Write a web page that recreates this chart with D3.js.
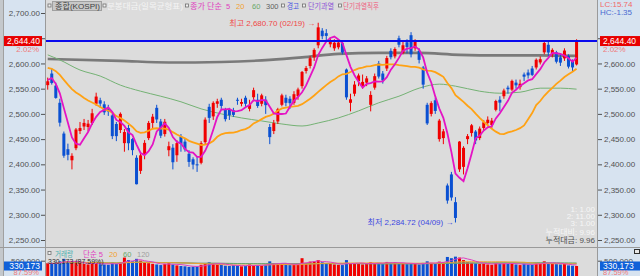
<!DOCTYPE html>
<html><head><meta charset="utf-8">
<script src="https://cdn.jsdelivr.net/npm/d3@7"></script>
<style>
body{margin:0;background:#dcdcdc;overflow:hidden}
svg{display:block;font-family:"Liberation Sans","Noto Sans CJK KR",sans-serif}
</style></head><body>
<svg id="c" width="640" height="276"></svg>
<script>
// ---------------- DATA ----------------
const dates = ["11/07","11/08","11/11","11/12","11/13","11/14","11/15","11/18","11/19","11/20","11/21","11/22","11/25","11/26","11/27","11/28","11/29",
"12/02","12/03","12/04","12/05","12/06","12/09","12/10","12/11","12/12","12/13","12/16","12/17","12/18","12/19","12/20","12/23","12/24","12/26","12/27","12/30",
"01/02","01/03","01/06","01/07","01/08","01/09","01/10","01/13","01/14","01/15","01/16","01/17","01/20","01/21","01/22","01/23","01/24","01/31",
"02/03","02/04","02/05","02/06","02/07","02/10","02/11","02/12","02/13","02/14","02/17","02/18","02/19","02/20","02/21","02/24","02/25","02/26","02/27","02/28",
"03/04","03/05","03/06","03/07","03/10","03/11","03/12","03/13","03/14","03/17","03/18","03/19","03/20","03/21","03/24","03/25","03/26","03/27","03/28","03/31",
"04/01","04/02","04/03","04/04","04/07","04/08","04/09","04/10","04/11","04/14","04/15","04/16","04/17","04/18","04/21","04/22","04/23","04/24","04/25","04/28","04/29","04/30",
"05/02","05/07","05/08","05/09","05/12","05/13","05/14","05/15","05/16","05/19","05/20","05/21","05/22","05/23","05/26"];

const open = [2557,2580,2556,2522,2461,2430,2408,2432,2466,2475,2474,2482,2520,2527,2519,2512,2497,
2480,2468,2442,2472,2450,2413,2387,2420,2452,2482,2512,2485,2460,2428,2433,2418,2455,2445,2421,2410,
2400,2403,2444,2514,2495,2520,2528,2508,2508,2507,2528,2520,2532,2510,2533,2528,2520,2528,
2474,2466,2485,2518,2532,2530,2522,2535,2555,2585,2595,2612,2636,2665,2660,2638,2630,2632,2640,2588,
2522,2540,2565,2555,2562,2518,2552,2600,2580,2590,2625,2614,2650,2621,2642,2656,2630,2625,2592,2518,
2500,2527,2450,2452,2358,2380,2325,2390,2395,2450,2462,2465,2452,2472,2482,2478,2508,2528,2535,2552,2548,2562,
2553,2578,2582,2590,2592,2602,2622,2637,2618,2622,2612,2610,2615,2605,2598];

const high = [2572,2590,2562,2530,2465,2441,2422,2472,2484,2490,2488,2510,2542,2532,2525,2518,2501,
2484,2503,2470,2478,2452,2418,2422,2448,2486,2500,2518,2490,2490,2445,2440,2448,2460,2452,2428,2414,
2415,2446,2493,2520,2525,2530,2532,2512,2512,2512,2532,2530,2536,2528,2552,2540,2540,2535,
2480,2488,2512,2540,2538,2535,2545,2552,2585,2595,2615,2630,2680.70,2670,2668,2652,2648,2648,2645,2590,
2540,2565,2580,2578,2575,2545,2580,2605,2585,2615,2630,2632,2655,2645,2648,2662,2648,2630,2595,2522,
2525,2532,2490,2470,2362,2385,2335,2446,2436,2460,2480,2468,2475,2488,2495,2492,2528,2535,2550,2556,2568,2568,
2568,2582,2588,2595,2610,2614,2645,2644,2630,2625,2618,2630,2618,2608,2648];

const low = [2548,2558,2530,2475,2413,2408,2390,2428,2460,2468,2465,2478,2516,2512,2498,2496,2450,
2446,2462,2425,2428,2418,2360.18,2381,2410,2448,2470,2482,2452,2455,2416,2390,2405,2425,2425,2395,2390,
2385,2400,2440,2482,2488,2512,2510,2485,2488,2494,2518,2515,2514,2505,2525,2512,2515,2500,
2440,2460,2480,2515,2515,2510,2518,2528,2550,2580,2590,2605,2630,2648,2645,2632,2625,2628,2618,2528,
2505,2535,2555,2550,2555,2505,2548,2570,2560,2585,2608,2610,2632,2618,2620,2612,2625,2600,2550,2478,
2495,2500,2445,2440,2322,2328,2284.72,2385,2380,2440,2455,2440,2448,2468,2475,2470,2505,2505,2530,2540,2545,2550,
2548,2565,2570,2575,2588,2598,2618,2615,2612,2600,2595,2605,2590,2585,2596];

const close = [2564.63,2561.15,2531.66,2482.57,2417.08,2418.86,2416.86,2469.07,2471.95,2482.11,2480.63,2501.24,2534.34,2520.36,2503.06,2504.67,2455.91,
2455.91,2500.10,2464.00,2441.85,2428.16,2360.58,2417.84,2442.51,2482.12,2494.46,2488.97,2456.81,2484.43,2435.93,2404.15,2442.01,2440.52,2429.67,2404.77,2399.49,
2398.94,2441.92,2488.64,2492.10,2521.90,2525.00,2515.78,2489.56,2497.42,2498.02,2527.49,2523.55,2520.05,2518.03,2547.06,2515.69,2536.80,2517.37,
2453.95,2481.69,2509.27,2536.75,2521.92,2521.27,2539.05,2548.39,2583.17,2591.05,2610.42,2626.81,2671.52,2654.06,2654.58,2645.27,2641.09,2641.50,2621.75,2532.78,
2528.92,2558.13,2576.16,2563.48,2570.39,2537.60,2574.82,2574.00,2566.36,2610.69,2612.34,2628.62,2637.10,2636.00,2632.59,2618.16,2643.94,2607.15,2557.98,2481.12,
2521.39,2505.86,2486.70,2465.42,2328.20,2334.23,2293.70,2445.06,2432.72,2455.89,2477.41,2447.34,2470.83,2483.42,2488.42,2486.64,2525.56,2522.33,2546.30,2548.86,2565.42,2556.61,
2559.79,2573.80,2576.29,2577.27,2607.33,2608.42,2640.57,2621.68,2626.87,2603.42,2601.62,2625.58,2593.67,2592.09,2644.40];

// closes of the 19 sessions before 11/07 (needed for the 5/20-day averages)
const priorCloses = [2596.91,2623.29,2633.45,2610.36,2609.30,2593.82,2604.02,2570.70,2599.62,2581.03,2583.27,2612.43,2617.80,2593.79,2556.15,2542.36,2588.97,2576.88,2563.51];

const volume = [420000,400000,430000,480000,560000,470000,450000,430000,420000,400000,380000,420000,430000,390000,380000,370000,450000,
400000,450000,600000,520000,480000,560000,500000,430000,420000,400000,380000,360000,400000,420000,380000,350000,330000,320000,300000,310000,
320000,370000,400000,450000,420000,380000,370000,340000,330000,360000,350000,320000,330000,380000,350000,360000,340000,370000,
480000,420000,400000,410000,380000,360000,380000,400000,580000,430000,470000,480000,520000,450000,420000,400000,380000,370000,360000,520000,
400000,420000,410000,380000,400000,450000,420000,430000,410000,460000,440000,450000,420000,400000,390000,420000,400000,380000,430000,480000,
430000,400000,470000,450000,620000,580000,630000,600000,520000,450000,430000,420000,400000,410000,380000,370000,430000,410000,420000,400000,410000,380000,
360000,400000,380000,370000,430000,420000,480000,430000,400000,390000,380000,400000,350000,340000,330173];

// 60-day and 300-day averages (session index, value)
const ma60At  = [0,3,8,13,18,23,28,33,38,43,48,53,58,63,67,72,77,82,87,92,97,101,107,112,117,122,127,131];
const ma60Val = [2617,2607,2587,2575,2557,2545,2535,2524,2510,2500,2492,2486,2480,2476,2482,2492,2506,2522,2535,2551,2559,2555,2545,2541,2543,2551,2551,2549];
const ma300At  = [0,18,30,43,55,63,72,82,92,102,112,122,131];
const ma300Val = [2609,2605,2602,2603,2607,2612,2619,2621,2621,2617,2616,2616,2615];

const priceTicks = [2250,2300,2350,2400,2450,2500,2550,2600,2650,2700];
const priceTicksRight = [2250,2300,2350,2400,2450,2500,2550,2600,2650];
const volTicks = [500000];
const lastPrice = 2644.40, lastPct = "2.02%";
const lastVol = 330173, lastVolPct = "87.59%";
const statLines = ["1: 1.00","2: 11.00","3: 1.00","누적대비: 9.96","누적대금: 9.96"];

// ---------------- CHART ----------------
const svg = d3.select("#c");
const fmt2 = d3.format(",.2f"), fmtI = d3.format(",");
const FONT = 8;
const x = d3.scaleBand().domain(dates).range([45.7, 45.7 + 4.037*dates.length]).padding(0);
const xc = i => x(dates[i]) + x.bandwidth()/2;
const y = d3.scaleLinear().domain([2250,2700]).range([240,13]);
const yv = d3.scaleLinear().domain([0,500000]).range([276.3,260.7]);
const UP = "#f00000", DN = "#0a50d2";

svg.append("rect").attr("width",640).attr("height",276).attr("fill","#dcdcdc");
svg.append("rect").attr("x",0).attr("width",45).attr("height",276).attr("fill","#d7e3f0");
svg.append("rect").attr("x",0).attr("width",3).attr("height",276).attr("fill","#c4c8cc");
svg.append("rect").attr("x",598).attr("width",42).attr("height",276).attr("fill","#d7e3f0");

const defs = svg.append("defs");
defs.append("clipPath").attr("id","cm").append("rect").attr("x",46).attr("y",0).attr("width",551).attr("height",247);
defs.append("clipPath").attr("id","cv").append("rect").attr("x",46).attr("y",248).attr("width",551).attr("height",28);

function sma(arr, n, prior) {
  const all = prior.concat(arr);
  return arr.map((_, i) => { const j = i + prior.length; return d3.mean(all.slice(Math.max(0, j-n+1), j+1)); });
}
const ma5 = sma(close, 5, priorCloses), ma20 = sma(close, 20, priorCloses);

const main = svg.append("g").attr("clip-path","url(#cm)");
const line = d3.line().x((d,i)=>xc(i)).y(d=>y(d));
const lineAt = d3.line().x(d=>xc(d[0])).y(d=>y(d[1])).curve(d3.curveMonotoneX);

main.append("path").attr("d", lineAt(ma300At.map((k,j)=>[k,ma300Val[j]]))).attr("fill","none").attr("stroke","#7a7a7a").attr("stroke-width",2.6);
main.append("path").attr("d", lineAt(ma60At.map((k,j)=>[k,ma60Val[j]]))).attr("fill","none").attr("stroke","#74b274").attr("stroke-width",1);

const cg = main.append("g");
dates.forEach((d,i)=>{
  const up = close[i] >= open[i], col = up ? UP : DN;
  cg.append("line").attr("x1",xc(i)).attr("x2",xc(i)).attr("y1",y(high[i])).attr("y2",y(low[i])).attr("stroke",col).attr("stroke-width",1);
  const y0 = y(Math.max(open[i],close[i])), y1 = y(Math.min(open[i],close[i]));
  cg.append("rect").attr("x",xc(i)-1.5).attr("y",y0).attr("width",3).attr("height",Math.max(1,y1-y0)).attr("fill",col);
});
main.append("path").attr("d", line(ma20)).attr("fill","none").attr("stroke","#ffa214").attr("stroke-width",1.8);
main.append("path").attr("d", line(ma5)).attr("fill","none").attr("stroke","#e414c4").attr("stroke-width",1.8);
main.append("line").attr("x1",46).attr("x2",597).attr("y1",y(lastPrice)).attr("y2",y(lastPrice)).attr("stroke","#0a0aee").attr("stroke-width",2);

// annotations
const iH = d3.maxIndex(high), iL = d3.minIndex(low);
main.append("text").attr("x",xc(iH)-3).attr("y",y(high[iH])+3).attr("text-anchor","end").attr("font-size",FONT).attr("fill","#f04848")
  .text(`최고 ${fmt2(high[iH])} (${dates[iH]}) →`);
main.append("text").attr("x",xc(iL)-2).attr("y",y(low[iL])+3).attr("text-anchor","end").attr("font-size",FONT).attr("fill","#3c48e0")
  .text(`최저 ${fmt2(low[iL])} (${dates[iL]}) →`);

// stats text
statLines.forEach((t,k)=>{
  svg.append("text").attr("x",595).attr("y",[212,219,226,235,243][k]).attr("text-anchor","end").attr("font-size",FONT)
    .attr("fill", k<4 ? "#f6f6f6" : "#505050").text(t);
});

// legend top
svg.append("rect").attr("x",52.5).attr("y",1.5).attr("width",49).attr("height",9).attr("fill","#c8c8c8").attr("stroke","#a0a0a0");
function sq(xp,yp){ svg.append("rect").attr("x",xp+0.5).attr("y",yp+0.5).attr("width",3).attr("height",3).attr("fill","#f0f0f0").attr("stroke","#707070").attr("stroke-width",0.8); }
const tL = (xp,t,c,w,yy=9)=>{ const e=svg.append("text").attr("x",xp).attr("y",yy).attr("font-size",7.5).attr("fill",c).text(t);
  if(w) e.attr("textLength",w).attr("lengthAdjust","spacingAndGlyphs"); return e; };
sq(47.5,3.5); sq(102.5,3.5); sq(185,3.5); sq(281,3.5); sq(302,3.5); sq(338,3.5);
tL(55,"종합(KOSPI)","#404040",45);
tL(107,"분봉대금(일목균형표)","#f4f4f4",76);
tL(190,"종가 단순","#e040c0",32); tL(226,"5","#e040c0"); tL(236,"20","#f2a030"); tL(252,"60","#6aa86a"); tL(266,"300","#606060");
tL(287,"경고","#4050e0",12); tL(308,"단기과열","#8a50d8",26); tL(343,"단기과열직후","#f06080",36);

// axes
function styleAxis(sel){ sel.select(".domain").remove(); sel.selectAll("line").attr("stroke","#505050");
  sel.selectAll("text").attr("font-size",FONT).attr("fill","#505050").attr("font-family",'"Liberation Sans",sans-serif'); }
svg.append("g").attr("transform","translate(45,0)").call(d3.axisLeft(y).tickValues(priceTicks).tickFormat(fmt2).tickSize(4).tickPadding(1)).call(styleAxis);
svg.append("g").attr("transform","translate(598,0)").call(d3.axisRight(y).tickValues(priceTicksRight).tickFormat(fmt2).tickSize(4).tickPadding(2)).call(styleAxis);
svg.append("g").attr("transform","translate(45,0)").call(d3.axisLeft(yv).tickValues(volTicks).tickFormat(fmtI).tickSize(4).tickPadding(1)).call(styleAxis);
svg.append("g").attr("transform","translate(598,0)").call(d3.axisRight(yv).tickValues(volTicks).tickFormat(fmtI).tickSize(4).tickPadding(2)).call(styleAxis);

// frame lines
svg.append("line").attr("x1",3.5).attr("x2",3.5).attr("y1",0).attr("y2",276).attr("stroke","#a0a0a0");
svg.append("line").attr("x1",45.5).attr("x2",45.5).attr("y1",0).attr("y2",276).attr("stroke","#9a9a9a");
svg.append("line").attr("x1",597.5).attr("x2",597.5).attr("y1",0).attr("y2",276).attr("stroke","#9a9a9a");
svg.append("line").attr("x1",0).attr("x2",640).attr("y1",247.5).attr("y2",247.5).attr("stroke","#9a9a9a");

// price tags
function tag(xp, yp, w, fill, txt, anchor){
  svg.append("rect").attr("x",xp).attr("y",yp-5).attr("width",w).attr("height",10).attr("fill",fill);
  svg.append("text").attr("x",anchor==="end"?xp+w-2:xp+3).attr("y",yp+3).attr("text-anchor",anchor).attr("font-size",8.5).attr("fill","#fff").text(txt);
}
tag(4, y(lastPrice), 38, "#e80000", fmt2(lastPrice), "end");
tag(600, y(lastPrice), 40, "#e80000", fmt2(lastPrice), "start");
svg.append("text").attr("x",39).attr("y",y(lastPrice)+10.5).attr("text-anchor","end").attr("font-size",FONT).attr("fill","#f07a7a").text(lastPct);
svg.append("text").attr("x",603).attr("y",y(lastPrice)+11).attr("font-size",FONT).attr("fill","#f07a7a").text(lastPct);
svg.append("text").attr("x",600).attr("y",7).attr("font-size",FONT).attr("fill","#f06a6a").text("LC:15.74");
svg.append("text").attr("x",600).attr("y",15).attr("font-size",FONT).attr("fill","#4a6ad0").text("HC:-1.35");

// volume panel
const vg = svg.append("g").attr("clip-path","url(#cv)");
dates.forEach((d,i)=>{
  const up = close[i] >= open[i];
  vg.append("rect").attr("x",xc(i)-1.5).attr("y",yv(volume[i])).attr("width",3).attr("height",yv(0)-yv(volume[i])).attr("fill", up?UP:DN);
});
const lv = d3.line().x((d,i)=>xc(i)).y(d=>yv(d));
[[120,"#909090",1],[60,"#6aa86a",1],[20,"#f2a030",1],[5,"#e040c0",1]].forEach(([n,c,w])=>{
  vg.append("path").attr("d",lv(sma(volume,n,[]))).attr("fill","none").attr("stroke",c).attr("stroke-width",w);
});
sq(47.5,251);
tL(55,"거래량","#48b0b0",18,256.5); tL(83,"단순 5","#e040c0",20,256.5); tL(109,"20","#f2a030",0,256.5); tL(123,"60","#6aa86a",0,256.5); tL(137,"120","#a0a0a0",0,256.5);
svg.append("text").attr("x",48).attr("y",263.5).attr("font-size",7).attr("fill","#303030").text(`${fmtI(lastVol)} (${lastVolPct})`);
function vtag(xp, w, anchor){
  const yp = yv(lastVol);
  svg.append("rect").attr("x",xp).attr("y",yp-4.5).attr("width",w).attr("height",9).attr("fill","#1060d8");
  svg.append("text").attr("x",anchor==="end"?xp+w-2:xp+3).attr("y",yp+3).attr("text-anchor",anchor).attr("font-size",8.5).attr("fill","#fff").text(fmtI(lastVol));
}
vtag(4,38,"end"); vtag(600,40,"start");
svg.append("text").attr("x",39).attr("y",yv(lastVol)+9.5).attr("text-anchor","end").attr("font-size",7.5).attr("fill","#f07a7a").text(lastVolPct);
svg.append("text").attr("x",603).attr("y",yv(lastVol)+9.5).attr("font-size",7.5).attr("fill","#f07a7a").text(lastVolPct);
svg.append("rect").attr("x",634.5).attr("y",249.5).attr("width",5).attr("height",4).attr("fill","#e8e8e8").attr("stroke","#303030");
</script></body></html>
